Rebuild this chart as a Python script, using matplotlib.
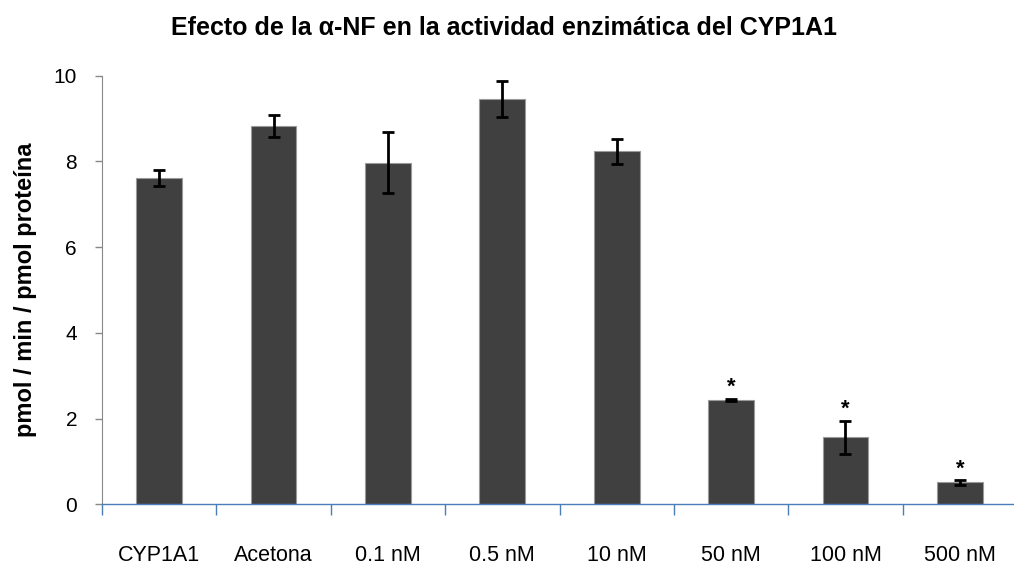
import matplotlib.pyplot as plt
import numpy as np

plt.rcParams["font.family"] = ["Liberation Sans", "DejaVu Sans"]

# Activity of CYP1A1 with increasing alpha-naphthoflavone
categories = ["CYP1A1", "Acetona", "0.1 nM", "0.5 nM", "10 nM", "50 nM", "100 nM", "500 nM"]
activity = [7.61, 8.83, 7.97, 9.46, 8.24, 2.43, 1.56, 0.51]
errors = [0.19, 0.25, 0.71, 0.42, 0.29, 0.03, 0.39, 0.05]
significant = [False, False, False, False, False, True, True, True]
yticks = [0, 2, 4, 6, 8, 10]

fig = plt.figure(figsize=(10.14, 5.66), dpi=100)
ax = fig.add_axes([0.1006, 0.109, 0.9024, 0.7573])

x = np.arange(len(categories))
ax.bar(x, activity, width=0.4, color="#404040", edgecolor="#9a9a9a", linewidth=0.8, zorder=2)
ax.errorbar(x, activity, yerr=errors, fmt="none", ecolor="black", elinewidth=2,
            capsize=4, capthick=2, zorder=3)

for xi, val, err, sig in zip(x, activity, errors, significant):
    if sig:
        ax.text(xi, val + err + 0.02, "*", ha="center", va="bottom",
                fontsize=16, fontweight="bold")

ax.set_xlim(-0.5, len(categories) - 0.5)
ax.set_ylim(0, 10)
ax.set_yticks(yticks)
ax.set_yticklabels([str(t) for t in yticks], fontsize=15)
ax.tick_params(axis="y", direction="out", length=5, color="#888888", width=1, pad=13)

# category labels at centres, blue separator ticks between categories
ax.set_xticks(x)
ax.set_xticklabels(categories, fontsize=15.5)
ax.tick_params(axis="x", which="major", length=0, pad=29)
ax.set_xticks(np.arange(len(categories) + 1) - 0.5, minor=True)
ax.tick_params(axis="x", which="minor", direction="out", length=8, color="#4a7ebb", width=1)

for side in ("top", "right"):
    ax.spines[side].set_visible(False)
ax.spines["left"].set_color("#888888")
ax.spines["bottom"].set_color("#4a7ebb")
ax.spines["bottom"].set_linewidth(1)

ax.set_ylabel("pmol / min / pmol proteína", fontsize=17, fontweight="bold", labelpad=12)
fig.text(0.497, 0.95, "Efecto de la \u03b1-NF en la actividad enzimática del CYP1A1",
         ha="center", va="center", fontsize=18, fontweight="bold")

fig.savefig("out.png", dpi=100)
